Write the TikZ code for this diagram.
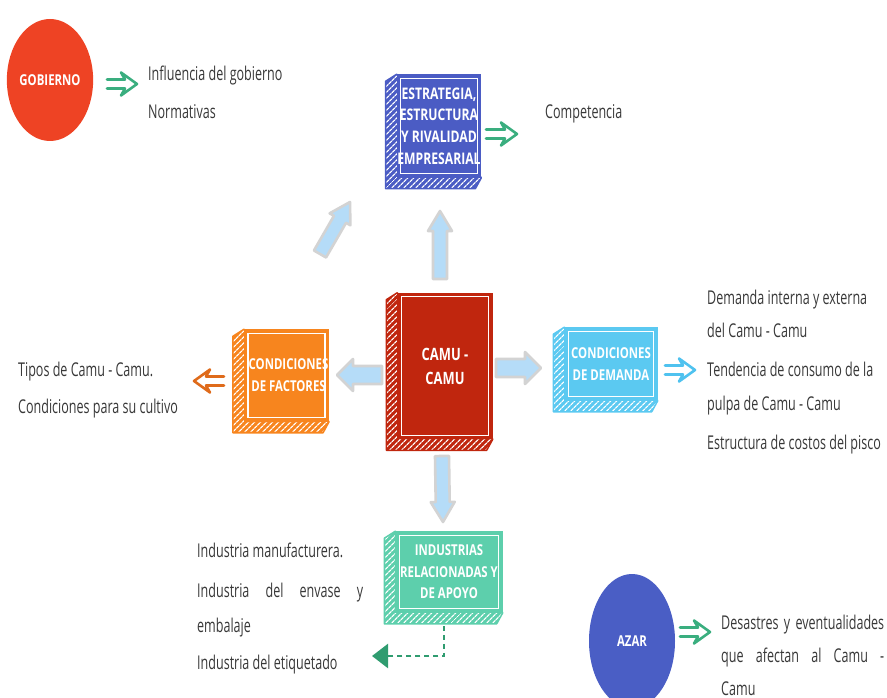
\documentclass[tikz,border=0pt]{standalone}
\usepackage{fontspec}
\usetikzlibrary{shapes.geometric,patterns.meta,arrows.meta,calc,backgrounds}
\newfontfamily\lblfont[FakeStretch=0.66]{Open Sans}
\newfontfamily\titlefont[FakeStretch=0.76]{Open Sans}

\definecolor{ink}{HTML}{383838}
\definecolor{gobred}{HTML}{EE4324}
\definecolor{azarblue}{HTML}{4A5EC5}
\definecolor{estrblue}{HTML}{4B5CC4}
\definecolor{camured}{HTML}{C0260E}
\definecolor{factorange}{HTML}{F7851E}
\definecolor{demsky}{HTML}{5BC9F1}
\definecolor{indteal}{HTML}{5DCFAC}
\definecolor{sketchgreen}{HTML}{3AAE7F}
\definecolor{dashgreen}{HTML}{2F9C70}
\definecolor{arroworange}{HTML}{DF6B1B}
\definecolor{arrowsky}{HTML}{4FC2EF}
\definecolor{fatfill}{HTML}{B5DCF8}
\definecolor{fatrim}{HTML}{D3D3D3}

\tikzset{
  lbl/.style={font=\lblfont\fontsize{19}{23}\selectfont, text=ink, anchor=west,
    inner sep=0pt, text height=14pt, text depth=4pt},
  face/.style={draw=#1, fill=#1, line width=1.5pt, inner sep=0pt, text=white, align=center},
  titlesize/.style 2 args={font=\titlefont\bfseries\fontsize{#1}{#2}\selectfont},
  disc/.style={ellipse, fill=#1, inner sep=0pt, text=white, minimum width=86},
  fatarrowstyle/.style={fill=fatfill, draw=fatrim, line width=2.6pt, line join=round},
  hollowstyle/.style={draw=#1, line width=2.6pt, line join=round, line cap=round},
  dashlink/.style={draw=dashgreen, line width=2.4pt, dash pattern=on 5pt off 4pt,
    -{Triangle[length=16pt, width=24pt, fill=dashgreen]}}
}

% hatched spine and foot of a slab, plus the white inner frame of its face
\newcommand\slabsides[2]{%
  \begin{scope}[on background layer]
    \filldraw[draw=#2, line width=1.5pt, line join=round, preaction={fill=#2},
      pattern={Lines[angle=45, distance=4pt, line width=1.3pt]}, pattern color=white]
      (#1.north west) -- ++(-11,7) -- ($(#1.south west)+(-11,11)$)
      -- ($(#1.south east)+(-6,11)$) -- (#1.south east) -- cycle;
  \end{scope}
  \draw[white, line width=1.4pt]
    ([xshift=4pt,yshift=-4pt]#1.north west) rectangle ([xshift=-4pt,yshift=4pt]#1.south east);
}

% block arrow: tail, tip, shaft half-width, head half-width, head length
\newcommand\fatarrow[5]{%
  \filldraw[fatarrowstyle]
    ($(#1)!#3!-90:(#2)$) -- ($(#2)!#5!(#1)!#3!90:(#1)$) -- ($(#2)!#5!(#1)!#4!90:(#1)$)
    -- (#2) -- ($(#2)!#5!(#1)!#4!-90:(#1)$) -- ($(#2)!#5!(#1)!#3!-90:(#1)$)
    -- ($(#1)!#3!90:(#2)$) -- cycle;
}

% outlined open arrow: colour, tail, tip
\newcommand\hollowarrow[3]{%
  \draw[hollowstyle=#1]
    ($(#2)!4.5pt!90:(#3)$) -- ($(#3)!12pt!(#2)!4.5pt!-90:(#2)$) -- ($(#3)!16pt!(#2)!11.5pt!-90:(#2)$)
    -- (#3) -- ($(#3)!16pt!(#2)!11.5pt!90:(#2)$) -- ($(#3)!12pt!(#2)!4.5pt!90:(#2)$)
    -- ($(#2)!4.5pt!-90:(#3)$);
}

\begin{document}
\begin{tikzpicture}[x=1pt, y=-1pt]
\useasboundingbox (0,0) rectangle (887,698);

% ---- slabs ----
\node[face=estrblue, minimum width=82, minimum height=102, titlesize={16}{21.7}]
  (estr) at (439,126) {ESTRATEGIA,\\ESTRUCTURA\\Y RIVALIDAD\\EMPRESARIAL};
\slabsides{estr}{estrblue}

\node[face=camured, minimum width=94, minimum height=145, titlesize={17}{24}]
  (camu) at (445,366) {CAMU -\\CAMU};
\slabsides{camu}{camured}

\node[face=factorange, minimum width=83, minimum height=91, titlesize={15}{22}]
  (fact) at (286.5,375.5) {\hspace*{4pt}CONDICIONES\\\hspace*{4pt}DE FACTORES};
\slabsides{fact}{factorange}

\node[face=demsky, minimum width=92, minimum height=72, titlesize={15}{22}]
  (dem) at (611,364) {CONDICIONES\\DE DEMANDA};
\slabsides{dem}{demsky}

\node[face=indteal, minimum width=106, minimum height=80, titlesize={15}{21.5}]
  (ind) at (449,572) {INDUSTRIAS\\RELACIONADAS Y\\DE APOYO};
\slabsides{ind}{indteal}

% ---- discs ----
\node[disc=gobred, minimum height=122, titlesize={15}{18}] (gob) at (50,80) {GOBIERNO};
\node[disc=azarblue, minimum height=134, titlesize={15}{18}] (azar) at (632,641) {AZAR};

% ---- labels ----
\node[lbl] (gob1) at (148,76) {Influencia del gobierno};
\node[lbl] (gob2) at (148,114) {Normativas};
\node[lbl] (comp) at (545,114) {Competencia};
\node[lbl] (fac1) at (18,371) {Tipos de Camu - Camu.};
\node[lbl] (fac2) at (18,408) {Condiciones para su cultivo};
\node[lbl] (dem1) at (707,299) {Demanda interna y externa};
\node[lbl] (dem2) at (707,332) {del Camu - Camu};
\node[lbl] (dem3) at (707,371) {Tendencia de consumo de la};
\node[lbl] (dem4) at (707,405) {pulpa de Camu - Camu};
\node[lbl] (dem5) at (707,444) {Estructura de costos del pisco};
\node[lbl] (ind1) at (197,552) {Industria manufacturera.};
\node[lbl] (ind2) at (197,592) {\makebox[166pt][s]{Industria del envase y}};
\node[lbl] (ind3) at (197,627) {embalaje};
\node[lbl] (ind4) at (197,664) {Industria del etiquetado};
\node[lbl] (az1) at (721,624) {\makebox[163pt][s]{Desastres y eventualidades}};
\node[lbl] (az2) at (721,657) {\makebox[163pt][s]{que afectan al Camu -}};
\node[lbl] (az3) at (721,690) {Camu};

% ---- block arrows out of the centre ----
\coordinate (fuS) at (440,279);  \coordinate (fuT) at (440,211);
\coordinate (fdS) at (320,254);  \coordinate (fdT) at (350,202);
\coordinate (frS) at (496,368);  \coordinate (frT) at (541,368);
\coordinate (flS) at (382,375);  \coordinate (flT) at (337,375);
\coordinate (fbS) at (442,456);  \coordinate (fbT) at (443,522);
\fatarrow{fuS}{fuT}{7pt}{12pt}{20pt}
\fatarrow{fdS}{fdT}{7pt}{12pt}{20pt}
\fatarrow{frS}{frT}{9pt}{16pt}{16pt}
\fatarrow{flS}{flT}{9pt}{16pt}{16pt}
\fatarrow{fbS}{fbT}{7pt}{12pt}{20pt}

% ---- outlined arrows towards the notes ----
\coordinate (hgS) at (107,84);  \coordinate (hgT) at (137,84);
\coordinate (heS) at (486,134); \coordinate (heT) at (517,134);
\coordinate (hfS) at (224,381); \coordinate (hfT) at (194,381);
\coordinate (hdS) at (665,370); \coordinate (hdT) at (695,370);
\coordinate (haS) at (680,632); \coordinate (haT) at (710,632);
\hollowarrow{sketchgreen}{hgS}{hgT}
\hollowarrow{sketchgreen}{heS}{heT}
\hollowarrow{arroworange}{hfS}{hfT}
\hollowarrow{arrowsky}{hdS}{hdT}
\hollowarrow{sketchgreen}{haS}{haT}

% ---- dashed link from the supporting industries ----
\coordinate (dtip) at (372,656);
\draw[dashlink] ([xshift=-5pt,yshift=-13pt]ind.south) |- (dtip);
\end{tikzpicture}
\end{document}
